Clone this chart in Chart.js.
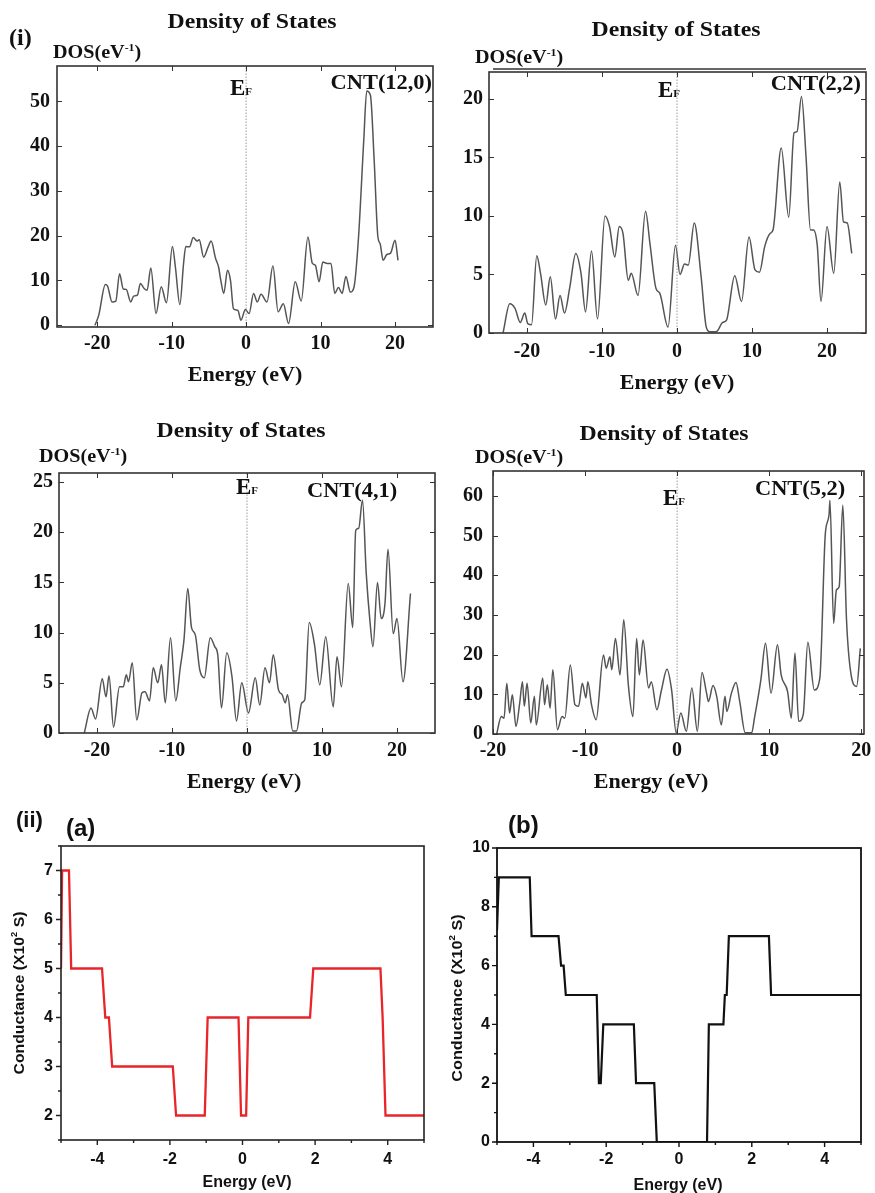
<!DOCTYPE html>
<html><head><meta charset="utf-8">
<script src="https://cdn.jsdelivr.net/npm/chart.js@4.4.0/dist/chart.umd.min.js"></script>
<style>
html,body{margin:0;padding:0;background:#fff;}
#wrap{position:relative;width:875px;height:1193px;overflow:hidden;background:#fff;}
canvas{position:absolute;left:0;top:0;width:875px;height:1193px;}
</style></head><body><div id="wrap">
<canvas id="p1" width="875" height="1193"></canvas>
<canvas id="p2" width="875" height="1193"></canvas>
<canvas id="p3" width="875" height="1193"></canvas>
<canvas id="p4" width="875" height="1193"></canvas>
<canvas id="p5" width="875" height="1193"></canvas>
<canvas id="p6" width="875" height="1193"></canvas>
</div>
<script>
// ---------- DATA ----------
const cnt120Energy = [-20.3,-19.8,-18.9,-18.6,-18.0,-17.5,-17.0,-16.5,-16.1,-15.5,-15.1,-14.6,-14.2,-13.7,-13.3,-12.8,-12.1,-11.4,-10.7,-9.9,-9.5,-8.9,-8.4,-8.1,-7.6,-7.1,-6.6,-6.3,-5.7,-5.1,-4.7,-4.1,-3.7,-3.4,-3.0,-2.5,-2.1,-1.7,-1.1,-0.7,-0.1,0.4,1.0,1.5,2.0,2.8,3.6,4.3,5.0,5.7,6.6,7.4,8.3,8.9,9.3,9.8,10.3,10.9,11.4,11.9,12.4,12.9,13.4,14.0,14.5,15.1,15.8,16.2,16.7,17.2,17.7,18.0,18.4,18.9,19.4,20.0,20.4];
const cnt120Dos = [0,2.2,9.1,8.7,5.2,5.4,11.5,8.1,8.0,5.2,6.5,6.7,9.3,8.2,7.8,12.8,2.6,8.6,5.0,17.6,13.0,4.6,13.8,17.6,17.5,19.6,18.8,19.1,15.2,17.5,18.8,14.9,13.0,10.0,7.1,12.3,10.0,3.7,3.3,1.1,3.5,2.6,7.1,5.2,6.9,5.2,13.2,3.0,4.8,0.4,9.7,5.4,19.7,13.8,13.4,9.7,14.1,13.8,13.8,7.1,8.4,7.1,10.9,7.4,8.6,19.7,41.3,52.3,51.3,36.8,19.7,18.2,14.5,15.8,16.1,19.0,14.5];

const cnt22Energy = [-23.2,-22.3,-21.6,-20.9,-20.3,-19.9,-19.4,-18.7,-18.2,-17.5,-16.9,-16.2,-15.6,-15.0,-14.3,-13.5,-12.8,-12.2,-11.4,-10.6,-9.6,-9.0,-8.3,-7.7,-7.2,-6.5,-6.1,-5.2,-4.2,-3.6,-2.8,-2.3,-1.2,-0.2,0.4,1.0,1.5,2.3,3.2,3.9,4.4,5.2,6.1,6.6,7.7,8.6,9.6,10.4,11.0,11.7,12.4,12.8,13.9,14.9,15.6,16.0,16.6,17.2,17.8,18.2,18.7,19.2,20.0,20.9,21.7,22.2,22.7,23.3];
const cnt22Dos = [0,2.5,2.1,0.9,1.7,0.8,0.7,6.6,5.1,2.4,4.8,1.2,3.2,1.7,3.9,6.8,5.1,1.8,7.0,1.2,10.0,9.1,6.5,9.1,8.5,4.5,5.1,3.2,10.4,7.6,3.8,3.4,0.5,7.5,5.0,5.9,5.8,9.4,4.9,0.5,0.1,0.1,0.9,1.1,4.9,2.7,8.2,5.4,5.2,7.4,8.5,8.8,15.8,9.9,17.1,17.2,20.2,15.1,8.8,8.8,7.5,2.7,9.1,5.1,12.9,9.5,9.4,6.8];

const cnt41Energy = [-21.7,-20.8,-20.2,-19.3,-18.8,-18.4,-17.8,-17.0,-16.5,-16.1,-15.8,-15.3,-14.7,-14.0,-13.6,-13.0,-12.5,-11.9,-11.4,-10.9,-10.2,-9.5,-8.9,-8.4,-7.9,-7.4,-6.9,-6.3,-5.7,-4.9,-4.3,-3.9,-3.4,-2.7,-2.0,-1.4,-0.7,0.2,1.1,1.7,2.4,3.0,3.5,4.2,4.7,5.1,5.4,6.1,6.6,7.3,7.7,8.3,9.0,9.7,10.5,11.5,12.0,12.6,13.5,14.1,14.5,14.9,15.4,15.9,16.4,16.8,17.4,17.9,18.4,18.8,19.5,20.0,20.8,21.8];
const cnt41Dos = [0,2.5,1.4,5.4,3.6,5.7,0.6,4.6,4.6,5.8,5.1,7.0,1.3,4.0,4.1,3.2,6.5,5.0,6.8,3.0,9.5,3.2,6.5,9.3,14.4,10.5,9.8,6.3,5.5,9.5,8.6,7.8,2.5,8.0,5.6,1.2,5.0,2.0,5.5,2.8,6.5,5.0,7.8,4.3,3.8,3.0,3.8,0.2,0.2,3.0,3.3,11.0,8.8,4.8,9.6,2.6,7.6,4.6,14.9,10.5,20.2,20.4,23.2,15.9,11.1,8.6,15.0,11.4,12.9,18.3,9.9,11.4,5.1,13.9];

const cnt52Energy = [-19.6,-19.1,-18.8,-18.5,-18.2,-17.9,-17.5,-17.1,-16.8,-16.6,-16.3,-15.9,-15.5,-15.3,-14.6,-14.4,-14.1,-13.8,-13.5,-13.0,-12.5,-12.2,-11.6,-11.1,-10.7,-10.3,-9.9,-9.7,-9.3,-8.8,-8.0,-7.7,-7.3,-7.1,-6.7,-6.2,-5.8,-5.3,-4.8,-4.4,-4.1,-3.7,-3.1,-2.8,-2.2,-1.7,-1.1,-0.6,-0.1,0.4,1.0,1.6,2.2,2.7,3.2,3.4,3.9,4.3,4.8,5.2,5.4,5.9,6.4,6.8,7.4,8.1,8.4,9.1,9.6,10.2,10.9,11.3,12.0,12.4,12.8,13.2,13.7,14.2,14.9,15.5,16.1,16.5,16.6,17.0,17.3,17.6,18.0,18.4,18.9,19.5,19.9];
const cnt52Dos = [0,4.4,4.0,12.8,5.3,9.9,1.9,7.8,13.2,7.0,12.8,2.8,9.5,2.3,14.1,7.4,12.4,6.5,16.2,1.1,4.4,4.0,17.4,7.4,7.0,12.8,9.1,13.2,7.4,3.6,19.9,16.6,19.5,16.2,24.1,14.9,28.8,12.4,4.4,24.1,14.9,23.7,11.6,13.2,6.1,11.1,16.3,11.1,0.3,5.3,0.7,11.6,0.7,15.5,10.3,8.2,12.2,9.5,2.3,9.5,5.7,10.3,13.0,8.2,0.3,0.3,4.0,13.7,22.9,10.3,22.5,14.9,10.7,4.0,20.4,3.2,4.9,23.1,11.1,14.1,50.5,55.2,58.9,27.9,36.3,37.1,57.7,28.8,14.9,12.0,21.6];

const condAEnergy = [-5.0,-4.97,-4.78,-4.72,-3.87,-3.78,-3.68,-3.59,-1.92,-1.83,-1.04,-0.96,-0.11,-0.04,0.10,0.16,1.86,1.95,3.80,3.86,3.94,5.0];
const condAValue  = [5,7,7,5,5,4,4,3,3,2,2,4,4,2,2,4,4,5,5,4,2,2];

const condBEnergy = [-5.0,-4.95,-4.10,-4.05,-3.31,-3.24,-3.17,-3.11,-2.26,-2.20,-2.15,-2.08,-1.24,-1.18,-0.68,-0.61,0.77,0.82,1.22,1.26,1.31,1.37,2.47,2.53,5.0];
const condBValue  = [7.2,9,9,7,7,6,6,5,5,2,2,4,4,2,2,0,0,4,4,5,5,7,7,5,5];

// tick labels
const dosTicksX = [-20,-10,0,10,20];
const dos120TicksY = [0,10,20,30,40,50];
const dos22TicksY = [0,5,10,15,20];
const dos41TicksY = [0,5,10,15,20,25];
const dos52TicksY = [0,10,20,30,40,50,60];
const condTicksX = [-4,-2,0,2,4];
const condMinorX = [-5,-3,-1,1,3,5];
const condATicksY = [2,3,4,5,6,7];
const condAMinorY = [1.5,2.5,3.5,4.5,5.5,6.5,7.5];
const condBTicksY = [0,2,4,6,8,10];
const condBMinorY = [1,3,5,7,9];

// ---------- helpers ----------
const SB = n => `bold ${n}px "Liberation Serif", "Times New Roman", serif`;
const AB = n => `bold ${n}px "Liberation Sans", Arial, sans-serif`;
const pts = (xs, ys) => xs.map((x, i) => ({x, y: ys[i]}));

function drawParts(ctx, t) {
  ctx.save();
  ctx.translate(t.x, t.y);
  if (t.rot) ctx.rotate(t.rot);
  if (t.sx) ctx.scale(t.sx, 1);
  let total = 0;
  t.parts.forEach(p => { ctx.font = p.f; p.w = ctx.measureText(p.t).width; total += p.w; });
  let cx = t.align === 'center' ? -total / 2 : t.align === 'right' ? -total : 0;
  ctx.textAlign = 'left'; ctx.textBaseline = 'alphabetic';
  t.parts.forEach(p => { ctx.font = p.f; ctx.fillStyle = p.c || '#111'; ctx.fillText(p.t, cx, p.dy || 0); cx += p.w; });
  ctx.restore();
}

const deco = {};
const decoPlugin = {
  id: 'deco',
  afterDraw(chart) {
    const d = deco[chart.canvas.id]; if (!d) return;
    const ctx = chart.ctx, a = chart.chartArea, xs = chart.scales.x, ys = chart.scales.y;
    ctx.save();
    ctx.strokeStyle = d.frameColor; ctx.lineWidth = d.frameWidth;
    ctx.strokeRect(a.left, a.top, a.right - a.left, a.bottom - a.top);
    ctx.lineWidth = d.tickWidth || 1;
    ctx.beginPath();
    if (d.inTicks) {
      const L = d.inTicks.len;
      d.inTicks.x.forEach(v => { const p = Math.round(xs.getPixelForValue(v)) + 0.5;
        ctx.moveTo(p, a.bottom); ctx.lineTo(p, a.bottom - L); ctx.moveTo(p, a.top); ctx.lineTo(p, a.top + L); });
      d.inTicks.y.forEach(v => { const p = Math.round(ys.getPixelForValue(v)) + 0.5;
        ctx.moveTo(a.left, p); ctx.lineTo(a.left + L, p); ctx.moveTo(a.right, p); ctx.lineTo(a.right - L, p); });
    }
    if (d.outTicks) {
      const o = d.outTicks;
      o.xMajor.forEach(v => { const p = xs.getPixelForValue(v); ctx.moveTo(p, a.bottom); ctx.lineTo(p, a.bottom + o.major); });
      o.xMinor.forEach(v => { const p = xs.getPixelForValue(v); ctx.moveTo(p, a.bottom); ctx.lineTo(p, a.bottom + o.minor); });
      o.yMajor.forEach(v => { const p = ys.getPixelForValue(v); ctx.moveTo(a.left, p); ctx.lineTo(a.left - o.major, p); });
      o.yMinor.forEach(v => { const p = ys.getPixelForValue(v); ctx.moveTo(a.left, p); ctx.lineTo(a.left - o.minor, p); });
    }
    ctx.stroke();
    if (d.extraTop) {
      ctx.beginPath(); ctx.lineWidth = 1.5; ctx.strokeStyle = d.frameColor;
      ctx.moveTo(d.extraTop.x0, a.top - d.extraTop.dy); ctx.lineTo(a.right, a.top - d.extraTop.dy); ctx.stroke();
    }
    ctx.restore();
    (d.texts || []).forEach(t => drawParts(ctx, t));
  }
};
Chart.register(decoPlugin);

function makeChart(id, cfg) {
  const W = 50, H = 30;
  const datasets = [];
  if (cfg.ef) {
    datasets.push({ data: [{x: 0, y: cfg.ymin}, {x: 0, y: cfg.ymax}], borderColor: '#9a9a9a', borderWidth: 1,
      borderDash: [1.5, 1.5], pointRadius: 0, tension: 0 });
  }
  datasets.push({ data: cfg.data, borderColor: cfg.color, borderWidth: cfg.lw, pointRadius: 0,
    cubicInterpolationMode: cfg.smooth ? 'monotone' : 'default', tension: 0 });
  deco[id] = cfg.deco;
  return new Chart(document.getElementById(id), {
    type: 'line',
    data: { datasets },
    options: {
      responsive: false, animation: false, events: [],
      layout: { autoPadding: false, padding: { left: cfg.L - W, top: cfg.T, right: 875 - cfg.R, bottom: 1193 - cfg.B - H } },
      plugins: { legend: { display: false }, tooltip: { enabled: false }, title: { display: false } },
      scales: {
        x: { type: 'linear', min: cfg.xmin, max: cfg.xmax,
          afterBuildTicks: s => { s.ticks = cfg.xticks.map(v => ({value: v})); },
          afterFit: s => { s.height = H; s.paddingLeft = 0; s.paddingRight = 0; },
          grid: { display: false, drawTicks: false }, border: { display: false },
          ticks: { font: cfg.tickFont, color: '#111', padding: cfg.xpad, autoSkip: false, maxRotation: 0, minRotation: 0 } },
        y: { type: 'linear', min: cfg.ymin, max: cfg.ymax,
          afterBuildTicks: s => { s.ticks = cfg.yticks.map(v => ({value: v})); },
          afterFit: s => { s.width = W; s.paddingTop = 0; s.paddingBottom = 0; },
          grid: { display: false, drawTicks: false }, border: { display: false },
          ticks: { font: cfg.tickFont, color: '#111', padding: cfg.ypad, autoSkip: false } }
      }
    }
  });
}

const serifTick = { family: '"Liberation Serif", "Times New Roman", serif', size: 20, weight: 'bold' };
const sansTick = { family: '"Liberation Sans", Arial, sans-serif', size: 16, weight: 'bold' };

function dosTexts(o) {
  return [
    { parts: [{t: 'Density of States', f: SB(22)}], x: o.tx, y: o.ty, align: 'center', sx: 1.08 },
    { parts: [{t: 'DOS(eV', f: SB(18)}, {t: '-1', f: SB(10.5), dy: -7.5}, {t: ')', f: SB(18)}], x: o.dx, y: o.dy, sx: 1.12 },
    { parts: [{t: 'E', f: SB(23)}, {t: 'F', f: SB(11)}], x: o.ex, y: o.ey },
    { parts: [{t: o.cnt, f: SB(20)}], x: o.cx, y: o.cy, align: o.calign, sx: 1.12 },
    { parts: [{t: 'Energy (eV)', f: SB(21)}], x: o.nx, y: o.ny, align: 'center', sx: 1.05 }
  ];
}

// Panel (i) CNT(12,0)
makeChart('p1', { L: 57, R: 433, T: 66, B: 327, xmin: -25.4, xmax: 25.1, ymin: -0.4, ymax: 57.9,
  xticks: dosTicksX, yticks: dos120TicksY, tickFont: serifTick, xpad: 4.5, ypad: 7,
  data: pts(cnt120Energy, cnt120Dos), color: '#555', lw: 1.5, smooth: true, ef: true,
  deco: { frameColor: '#333', frameWidth: 1.6, inTicks: { x: dosTicksX, y: dos120TicksY, len: 5 },
    texts: [{ parts: [{t: '(i)', f: SB(24)}], x: 9, y: 45 }].concat(dosTexts({
      tx: 252, ty: 28, dx: 53, dy: 58, ex: 230, ey: 95, cnt: 'CNT(12,0)', cx: 432, cy: 89, calign: 'right', nx: 245, ny: 381 })) } });

// CNT(2,2)
makeChart('p2', { L: 489, R: 866, T: 72, B: 333, xmin: -25.07, xmax: 25.2, ymin: 0, ymax: 22.3,
  xticks: dosTicksX, yticks: dos22TicksY, tickFont: serifTick, xpad: 6.5, ypad: 6,
  data: pts(cnt22Energy, cnt22Dos), color: '#555', lw: 1.5, smooth: true, ef: true,
  deco: { frameColor: '#333', frameWidth: 1.6, inTicks: { x: dosTicksX, y: dos22TicksY, len: 5 }, extraTop: { x0: 493, dy: 3 },
    texts: dosTexts({ tx: 676, ty: 36, dx: 475, dy: 63, ex: 658, ey: 97, cnt: 'CNT(2,2)', cx: 861, cy: 90, calign: 'right', nx: 677, ny: 389 }) } });

// CNT(4,1)
makeChart('p3', { L: 59, R: 435, T: 473, B: 733, xmin: -25.07, xmax: 25.07, ymin: 0, ymax: 25.9,
  xticks: dosTicksX, yticks: dos41TicksY, tickFont: serifTick, xpad: 6, ypad: 6,
  data: pts(cnt41Energy, cnt41Dos), color: '#555', lw: 1.5, smooth: true, ef: true,
  deco: { frameColor: '#333', frameWidth: 1.6, inTicks: { x: dosTicksX, y: dos41TicksY, len: 5 },
    texts: dosTexts({ tx: 241, ty: 437, dx: 39, dy: 462, ex: 236, ey: 494, cnt: 'CNT(4,1)', cx: 307, cy: 497, calign: 'left', nx: 244, ny: 788 }) } });

// CNT(5,2)
makeChart('p4', { L: 493, R: 864, T: 471, B: 734, xmin: -20, xmax: 20.3, ymin: 0, ymax: 66.3,
  xticks: dosTicksX, yticks: dos52TicksY, tickFont: serifTick, xpad: 5, ypad: 10,
  data: pts(cnt52Energy, cnt52Dos), color: '#555', lw: 1.5, smooth: true, ef: true,
  deco: { frameColor: '#333', frameWidth: 1.6, inTicks: { x: dosTicksX, y: dos52TicksY, len: 5 },
    texts: dosTexts({ tx: 664, ty: 440, dx: 475, dy: 463, ex: 663, ey: 505, cnt: 'CNT(5,2)', cx: 755, cy: 495, calign: 'left', nx: 651, ny: 788 }) } });

// (ii)(a)
makeChart('p5', { L: 61, R: 424, T: 846, B: 1140, xmin: -5, xmax: 5, ymin: 1.5, ymax: 7.5,
  xticks: condTicksX, yticks: condATicksY, tickFont: sansTick, xpad: 10, ypad: 8,
  data: pts(condAEnergy, condAValue), color: '#e8262a', lw: 2.3, smooth: false, ef: false,
  deco: { frameColor: '#222', frameWidth: 1.6, tickWidth: 1.4,
    outTicks: { xMajor: condTicksX, xMinor: condMinorX, yMajor: condATicksY, yMinor: condAMinorY, major: 5, minor: 3 },
    texts: [
      { parts: [{t: '(ii)', f: AB(22)}], x: 16, y: 827 },
      { parts: [{t: '(a)', f: AB(24)}], x: 66, y: 836 },
      { parts: [{t: 'Conductance (X10', f: AB(15)}, {t: '2', f: AB(9), dy: -7}, {t: ' S)', f: AB(15)}], x: 24, y: 993, rot: -Math.PI / 2, align: 'center', sx: 1.05 },
      { parts: [{t: 'Energy (eV)', f: AB(16)}], x: 247, y: 1187, align: 'center' }
    ] } });

// (b)
makeChart('p6', { L: 497, R: 861, T: 848, B: 1142, xmin: -5, xmax: 5, ymin: 0, ymax: 10,
  xticks: condTicksX, yticks: condBTicksY, tickFont: sansTick, xpad: 7.5, ypad: 7,
  data: pts(condBEnergy, condBValue), color: '#111', lw: 2.2, smooth: false, ef: false,
  deco: { frameColor: '#111', frameWidth: 1.8, tickWidth: 1.4,
    outTicks: { xMajor: condTicksX, xMinor: condMinorX, yMajor: condBTicksY, yMinor: condBMinorY, major: 5, minor: 3 },
    texts: [
      { parts: [{t: '(b)', f: AB(24)}], x: 508, y: 833 },
      { parts: [{t: 'Conductance (X10', f: AB(15)}, {t: '2', f: AB(9), dy: -7}, {t: ' S)', f: AB(15)}], x: 462, y: 998, rot: -Math.PI / 2, align: 'center', sx: 1.08 },
      { parts: [{t: 'Energy (eV)', f: AB(16)}], x: 678, y: 1190, align: 'center' }
    ] } });
</script>
</body></html>
